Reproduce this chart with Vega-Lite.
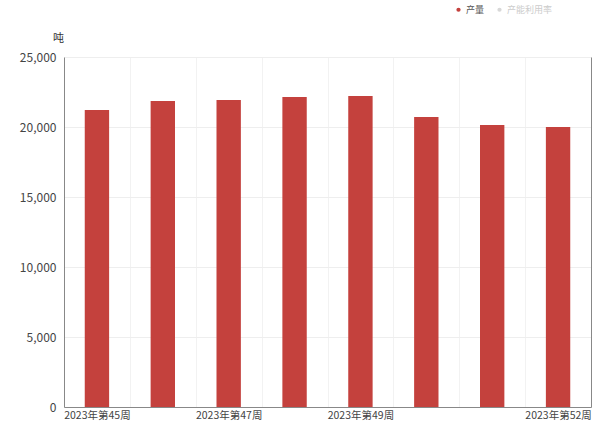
{
  "$schema": "https://vega.github.io/schema/vega-lite/v6.json",
  "width": 527,
  "height": 350,
  "autosize": {"type": "none"},
  "padding": {"left": 64, "top": 57, "right": 9, "bottom": 23},
  "background": "white",
  "config": {
    "font": "Noto Sans CJK SC",
    "view": {"stroke": null}
  },
  "data": {
    "values": [
      {"week": "2023年第45周", "value": 21214, "series": "产量"},
      {"week": "2023年第46周", "value": 21857, "series": "产量"},
      {"week": "2023年第47周", "value": 21929, "series": "产量"},
      {"week": "2023年第48周", "value": 22143, "series": "产量"},
      {"week": "2023年第49周", "value": 22214, "series": "产量"},
      {"week": "2023年第50周", "value": 20714, "series": "产量"},
      {"week": "2023年第51周", "value": 20143, "series": "产量"},
      {"week": "2023年第52周", "value": 20000, "series": "产量"}
    ]
  },
  "encoding": {
    "x": {
      "field": "week",
      "type": "nominal",
      "sort": null,
      "scale": {"paddingInner": 0, "paddingOuter": 0},
      "axis": {
        "title": null,
        "labelAngle": 0,
        "labelFontSize": 10.5,
        "labelColor": "#444",
        "labelPadding": 3,
        "ticks": false,
        "domainColor": "#888",
        "grid": true,
        "gridColor": "#f2f2f2",
        "tickBand": "extent",
        "labelExpr": "indexof(['2023年第45周','2023年第47周','2023年第49周','2023年第52周'], datum.value) >= 0 ? datum.value : ''"
      }
    }
  },
  "layer": [
    {
      "mark": {"type": "bar", "width": {"band": 0.37}},
      "encoding": {
        "y": {
          "field": "value",
          "type": "quantitative",
          "scale": {"domain": [0, 25000]},
          "axis": {
            "values": [0, 5000, 10000, 15000, 20000, 25000],
            "format": ",d",
            "title": "吨",
            "titleAngle": 0,
            "titleX": -6,
            "titleY": -14,
            "titleAlign": "center",
            "titleFontSize": 11,
            "titleFontWeight": "normal",
            "titleColor": "#333",
            "labelFontSize": 12,
            "labelColor": "#444",
            "labelPadding": 8,
            "ticks": false,
            "domainColor": "#888",
            "grid": true,
            "gridColor": "#eeeeee"
          }
        },
        "color": {
          "field": "series",
          "type": "nominal",
          "scale": {"domain": ["产量", "产能利用率"], "range": ["#c4413d", "#d8d8d8"]},
          "legend": {
            "title": null,
            "orient": "none",
            "direction": "horizontal",
            "legendX": 390,
            "legendY": -52,
            "symbolType": "circle",
            "symbolSize": 18,
            "labelFontSize": 9,
            "labelOffset": 3,
            "columnPadding": 10,
            "encode": {
              "labels": {
                "update": {
                  "fill": {"signal": "datum.label === '产量' ? '#555555' : '#cccccc'"}
                }
              }
            }
          }
        }
      }
    },
    {
      "mark": {"type": "bar", "opacity": 0, "width": {"band": 0.37}},
      "encoding": {
        "y": {
          "field": "value",
          "type": "quantitative",
          "scale": {"domain": [0, 25000]},
          "axis": {
            "orient": "right",
            "labels": false,
            "ticks": false,
            "grid": false,
            "title": null,
            "domainColor": "#888"
          }
        }
      }
    }
  ],
  "resolve": {"scale": {"y": "independent"}}
}
